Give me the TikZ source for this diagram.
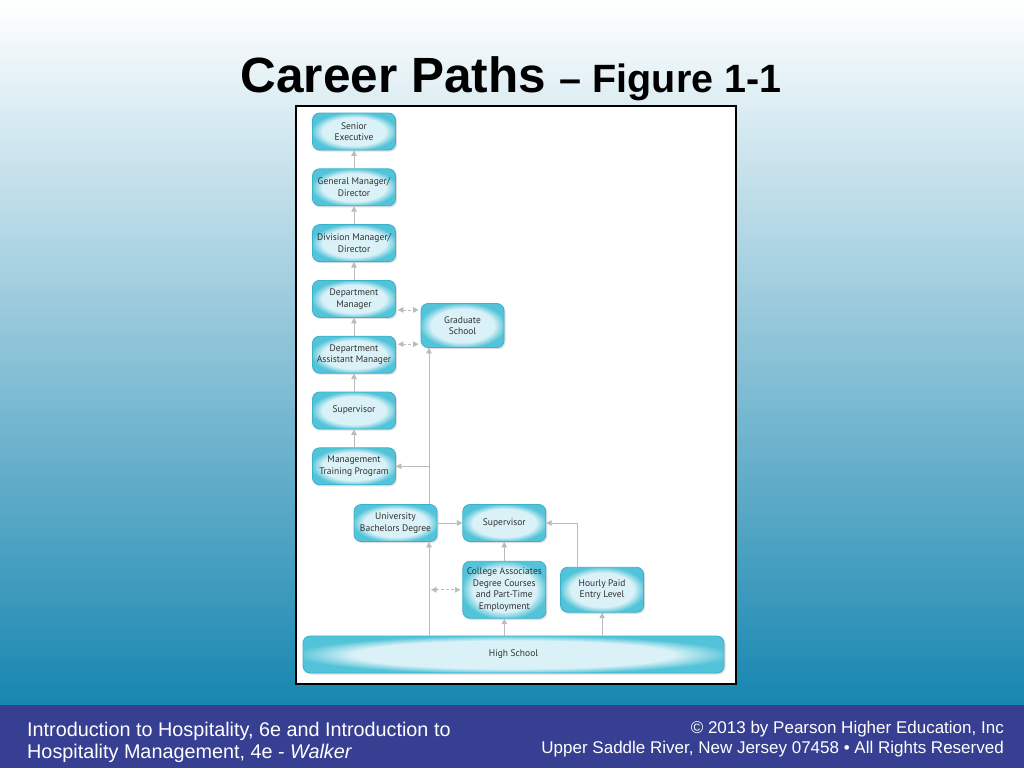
\documentclass[tikz,border=0pt]{standalone}
\usepackage{fontspec}
\setmainfont{Liberation Sans}
\newfontfamily\boxfont{PT Sans}
\usetikzlibrary{arrows.meta,positioning,shadows,calc}
\definecolor{cBgMid}{HTML}{A3D2E1}
\definecolor{cBgBot}{HTML}{1786B0}
\definecolor{cBand}{HTML}{373F92}
\definecolor{cEdge}{HTML}{3AB2CB}
\definecolor{cGlow}{HTML}{DAF2F7}
\definecolor{cRim}{HTML}{52C3D8}
\definecolor{cLink}{HTML}{BBBBBB}
\definecolor{cText}{HTML}{303030}
\pgfdeclareradialshading{glow}{\pgfpoint{0bp}{0bp}}{color(0bp)=(cGlow); color(19bp)=(cGlow); color(26bp)=(cRim); color(50bp)=(cRim)}
\tikzset{
  stage/.style={draw=cEdge,line width=0.8pt,rounded corners=7pt,shading=glow,
    minimum width=83pt,minimum height=37pt,align=center,text=cText,
    font=\boxfont\fontsize{9.5}{11.5}\selectfont,
    drop shadow={opacity=0.25,shadow xshift=1.5pt,shadow yshift=-1.5pt}},
  lift/.style={-{Triangle[width=5.5pt,length=5.5pt]},draw=cLink,line width=0.8pt},
  swap/.style={{Triangle[width=5.5pt,length=5.5pt]}-{Triangle[width=5.5pt,length=5.5pt]},draw=cLink,line width=0.8pt,
    dash pattern=on 3pt off 2pt,shorten <=2pt,shorten >=2pt},
  foot/.style={text=white,inner sep=0pt,font=\fontsize{17}{20}\selectfont}
}
\begin{document}
\begin{tikzpicture}[x=1pt,y=-1pt,node distance=18pt]
    \useasboundingbox (0,0) rectangle (1024,768);
    % Slide
    \shade[top color=white,middle color=cBgMid,bottom color=cBgBot] (0,0) rectangle (1024,705);
    \fill[cBand] (0,705) rectangle (1024,768);
    \node[anchor=base,inner sep=0pt] (title) at (511,92)
      {\fontsize{49.5}{58}\selectfont\bfseries Career Paths \fontsize{39.5}{46}\selectfont -- Figure 1-1};
    \draw[line width=2.5pt,fill=white] (296,106) rectangle (736,684);

    % Nodes
    \node[stage] (senior) at (354,131.5) {Senior\\Executive};
    \node[stage,below=of senior] (genmgr) {General Manager/\\Director};
    \node[stage,below=of genmgr] (divmgr) {Division Manager/\\Director};
    \node[stage,below=of divmgr] (deptmgr) {Department\\Manager};
    \node[stage,below=of deptmgr] (asstmgr) {Department\\Assistant Manager};
    \node[stage,below=of asstmgr] (supleft) {Supervisor};
    \node[stage,below=of supleft] (training) {Management\\Training Program};
    \node[stage,minimum height=44pt] (grad) at (462.5,325.5) {Graduate\\School};
    \node[stage] (univ) at (395.5,523) {University\\Bachelors Degree};
    \node[stage,right=25pt of univ] (supright) {Supervisor};
    \node[stage,minimum height=57pt,below=19pt of supright] (college)
      {College Associates\\Degree Courses\\and Part-Time\\Employment};
    \node[stage,minimum height=45pt,right=14pt of college] (hourly) {Hourly Paid\\Entry Level};
    \node[stage,minimum width=421pt] (highschool) at (513.5,654.5) {High School};
    \coordinate (trunk) at (429,0);

    % Paths
    \foreach \a/\b in {genmgr/senior,divmgr/genmgr,deptmgr/divmgr,asstmgr/deptmgr,supleft/asstmgr,training/supleft}
      \draw[lift] (\a) -- (\b);
    \draw[lift] (highschool.north -| trunk) -- (univ.south -| trunk);
    \draw[lift] (univ.north -| trunk) -- (grad.south -| trunk);
    \draw[lift] (training.east -| trunk) -- (training.east);
    \draw[swap] ([yshift=-11pt]deptmgr.east) -- ([yshift=-11pt]deptmgr.east -| grad.west);
    \draw[swap] ([yshift=10.5pt]asstmgr.east) -- ([yshift=10.5pt]asstmgr.east -| grad.west);
    \draw[lift] (univ) -- (supright);
    \draw[swap] (college.west -| trunk) -- (college.west);
    \draw[lift] (college) -- (supright);
    \draw[lift] ([xshift=-25pt]hourly.north) |- (supright.east);
    \draw[lift] (highschool.north -| college) -- (college);
    \draw[lift] (highschool.north -| hourly) -- (hourly);

    % Footer
    \node[foot,anchor=base west,font=\fontsize{19.8}{22}\selectfont] (cite1) at (27,736) {Introduction to Hospitality, 6e and Introduction to};
    \node[foot,anchor=base west,font=\fontsize{19.8}{22}\selectfont] (cite2) at (27,758) {Hospitality Management, 4e - \textit{Walker}};
    \node[foot,anchor=base east] (copy1) at (1004,733) {© 2013 by Pearson Higher Education, Inc};
    \node[foot,anchor=base east] (copy2) at (1004,753) {Upper Saddle River, New Jersey 07458 • All Rights Reserved};
  \end{tikzpicture}
\end{document}
